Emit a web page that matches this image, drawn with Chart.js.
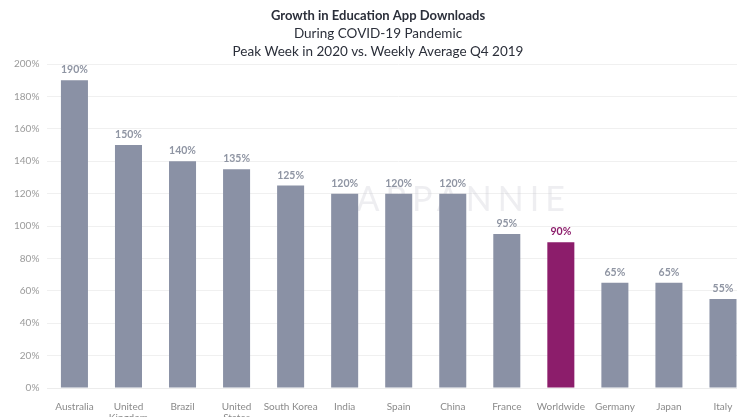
<!DOCTYPE html>
<html>
<head>
<meta charset="utf-8">
<script src="https://cdn.jsdelivr.net/npm/chart.js@4"></script>
<style>
  html, body { margin: 0; padding: 0; background: #fff; overflow: hidden; }
  /* 元画像は右端と下端が切れているので少し大きく描く */
  #wrap { width: 750px; height: 428px; }
</style>
</head>
<body>
<div id="wrap"><canvas id="myChart"></canvas></div>
<script>
// categories
const countries = ['Australia', ['United', 'Kingdom'], 'Brazil', ['United', 'States'], 'South Korea',
    'India', 'Spain', 'China', 'France', 'Worldwide', 'Germany', 'Japan', 'Italy'];
// growth in %
const growth = [190, 150, 140, 135, 125, 120, 120, 120, 95, 90, 65, 65, 55];
const yTicks = [0, 20, 40, 60, 80, 100, 120, 140, 160, 180, 200];

const grey = '#8a91a5';
const purple = '#8c1d6b';
const barColors = countries.map(c => c === 'Worldwide' ? purple : grey);

// 値ラベル
const valueLabels = {
    id: 'valueLabels',
    afterDatasetsDraw(chart) {
        const ctx = chart.ctx;
        const meta = chart.getDatasetMeta(0);
        ctx.save();
        ctx.font = 'bold 10.5px Lato, sans-serif';
        ctx.textAlign = 'center';
        ctx.textBaseline = 'bottom';
        meta.data.forEach((bar, i) => {
            ctx.fillStyle = countries[i] === 'Worldwide' ? purple : '#8f95a3';
            ctx.fillText(growth[i] + '%', bar.x, bar.y - 5);
        });
        ctx.restore();
    }
};

// 透かし
const watermark = {
    id: 'watermark',
    beforeDatasetsDraw(chart) {
        const { ctx, chartArea } = chart;
        ctx.save();
        ctx.font = '34px Lato, sans-serif';
        ctx.fillStyle = 'rgba(200, 200, 208, 0.3)';
        ctx.textAlign = 'left';
        ctx.textBaseline = 'middle';
        if ('letterSpacing' in ctx) ctx.letterSpacing = '6px';
        const x = chartArea.left + (chartArea.right - chartArea.left) * 0.44;
        const y = chartArea.top + (chartArea.bottom - chartArea.top) * 0.42;
        ctx.fillText('APPANNIE', x, y);
        ctx.restore();
    }
};

const config = {
    type: 'bar',
    data: {
        labels: countries,
        datasets: [{
            data: growth,
            backgroundColor: barColors,
            barPercentage: 0.5,
            categoryPercentage: 1.0,
        }]
    },
    options: {
        responsive: true,
        maintainAspectRatio: false,
        animation: false,
        layout: { padding: { left: 6, right: 0, top: 0, bottom: 0 } },
        scales: {
            x: {
                grid: { display: false },
                border: { color: '#ececec' },
                ticks: { color: '#8a8a8a', font: { family: 'Lato, sans-serif', size: 10, lineHeight: 1.1 }, maxRotation: 0, autoSkip: false, padding: 5 }
            },
            y: {
                min: 0,
                max: 200,
                afterBuildTicks(axis) { axis.ticks = yTicks.map(v => ({ value: v })); },
                grid: { color: '#f0f0f0', drawTicks: false },
                border: { display: false },
                ticks: {
                    color: '#9a9a9a',
                    font: { family: 'Lato, sans-serif', size: 10 },
                    padding: 8,
                    callback: v => v + '%'
                }
            }
        },
        plugins: {
            legend: { display: false },
            tooltip: { enabled: false },
            title: {
                display: true,
                text: 'Growth in Education App Downloads',
                color: '#2b2f3a',
                font: { family: 'Lato, sans-serif', size: 13, weight: 'bold' },
                padding: { top: 8, bottom: 0 }
            },
            subtitle: {
                display: true,
                text: ['During COVID-19 Pandemic', 'Peak Week in 2020 vs. Weekly Average Q4 2019'],
                color: '#2b2f3a',
                font: { family: 'Lato, sans-serif', size: 13.5, lineHeight: 1.35 },
                padding: { top: 1, bottom: 3 }
            }
        }
    },
    plugins: [watermark, valueLabels]
};

new Chart(document.getElementById('myChart'), config);
</script>
</body>
</html>
